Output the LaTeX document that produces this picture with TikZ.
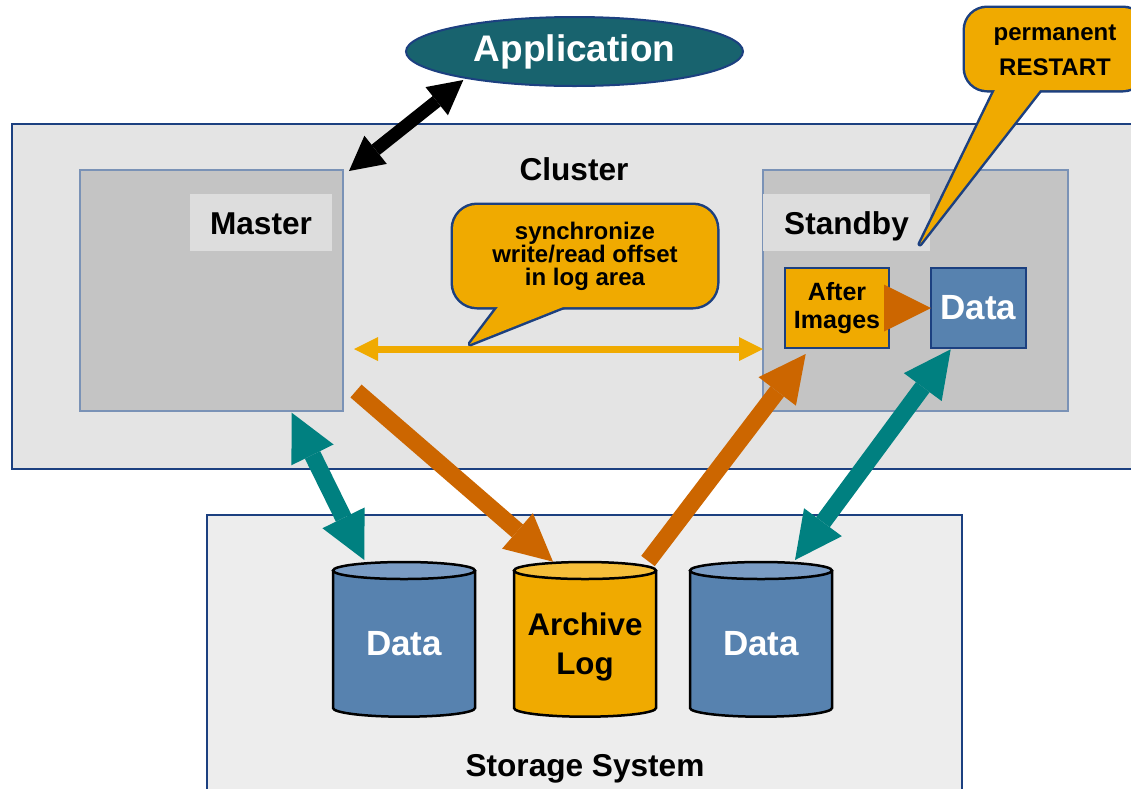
\documentclass[tikz,border=0pt]{standalone}
\usepackage{fontspec}
\setmainfont{Liberation Sans}
\usetikzlibrary{arrows.meta,shapes.geometric,calc}

\definecolor{navy}{RGB}{28,64,128}
\definecolor{appteal}{RGB}{24,99,110}
\definecolor{clusterbg}{RGB}{228,228,228}
\definecolor{hostbg}{RGB}{196,196,196}
\definecolor{hostframe}{RGB}{122,146,182}
\definecolor{tagbg}{RGB}{221,221,221}
\definecolor{storagebg}{RGB}{237,237,237}
\definecolor{amber}{RGB}{240,170,0}
\definecolor{amberlid}{RGB}{245,190,58}
\definecolor{diskblue}{RGB}{87,130,175}
\definecolor{disklid}{RGB}{122,156,196}
\definecolor{rust}{RGB}{204,102,0}
\definecolor{sea}{RGB}{0,128,128}

\tikzset{
  big/.style={font=\bfseries\fontsize{31.6}{37}\selectfont},
  panel/.style={draw=navy, line width=2pt, inner sep=0pt, outer sep=0pt, anchor=north west},
  host/.style={draw=hostframe, line width=1.5pt, fill=hostbg, inner sep=0pt, outer sep=0pt, anchor=north west},
  tag/.style={big, fill=tagbg, inner sep=0pt, outer sep=0pt, anchor=north west,
    text height=23pt, text depth=0pt},
  block/.style={draw=navy, line width=2.5pt, inner sep=0pt, outer sep=0pt, anchor=north west,
    minimum height=80pt},
  drumslot/.style={minimum width=142pt, minimum height=155pt, inner sep=0pt, outer sep=0pt},
  disklabel/.style={font=\bfseries\fontsize{35}{40}\selectfont, text=white, text depth=0pt},
  twoway/.style={line width=17pt,
    arrows={Triangle[length=47pt,width=47pt,line width=0pt]-Triangle[length=47pt,width=47pt,line width=0pt]}},
  oneway/.style={line width=17pt,
    arrows={-Triangle[length=47pt,width=47pt,line width=0pt]}},
  bubbleedge/.style={draw=navy, line width=5pt, line join=round},
  bubblefill/.style={fill=amber},
  bubbletext/.style={font=\bfseries\fontsize{24}{23}\selectfont, align=center},
}

% disk drum: #1 centre x, #2 body colour, #3 lid colour
\newcommand\drum[3]{%
  \fill[#2] (#1-71,570.5) -- (#1-71,708)
    arc[start angle=180, end angle=0, x radius=71, y radius=8.7] -- (#1+71,570.5) -- cycle;
  \draw[line width=2.5pt] (#1-71,570.5) -- (#1-71,708)
    arc[start angle=180, end angle=0, x radius=71, y radius=8.7] -- (#1+71,570.5);
  \filldraw[fill=#3, line width=2.5pt] (#1,570.5) ellipse[x radius=71, y radius=8.5];
}

\begin{document}
\begin{tikzpicture}[x=1pt, y=-1pt]
\useasboundingbox (0,0) rectangle (1131,788);
\clip (0,0) rectangle (1131,788);
\fill[white] (0,0) rectangle (1131,788);

% cluster with its two hosts
\node[panel, fill=clusterbg, minimum width=1140pt, minimum height=345pt] (cluster) at (12,124) {};
\node[big] (clustertitle) at (574,169.5) {Cluster};

\node[host, minimum width=263pt, minimum height=241pt] (master) at (80,170) {};
\node[tag, minimum width=142pt, minimum height=57pt] (mastertag) at (190,194) {Master};

\node[host, minimum width=305pt, minimum height=241pt] (standby) at (763,170) {};
\node[tag, minimum width=167pt, minimum height=57pt] (standbytag) at (763,194) {Standby};

\node[block, fill=amber, minimum width=104pt, align=center,
  font=\bfseries\fontsize{25}{28}\selectfont] (after) at (785,268) {After\\Images};
\node[block, fill=diskblue, minimum width=95pt, text=white,
  font=\bfseries\fontsize{35}{40}\selectfont] (datas) at (931,268) {Data};

% storage system with its disks
\node[panel, line width=2.5pt, fill=storagebg, minimum width=755pt, minimum height=320pt] (storage) at (207,515) {};
\node[big, text height=22pt, text depth=0pt] (storagetitle) at (585,765) {Storage System};

\drum{404}{diskblue}{disklid}
\drum{585}{amber}{amberlid}
\drum{761}{diskblue}{disklid}
\node[drumslot] (datal) at (404,639.5) {};
\node[drumslot] (archive) at (585,639.5) {};
\node[drumslot] (datar) at (761,639.5) {};
\node[disklabel] (datalname) at (404,643) {Data};
\node[disklabel] (datarname) at (761,643) {Data};
\node[big, align=center, font=\bfseries\fontsize{31.3}{39}\selectfont] (archivename) at (585,646.5) {Archive\\Log};

% application
\node[ellipse, draw=navy, line width=2pt, fill=appteal, inner sep=0pt, outer sep=0pt,
  minimum width=337pt, minimum height=69pt, text=white,
  font=\bfseries\fontsize{37}{44}\selectfont] (app) at (574.5,51.5) {Application};

% connectors
\draw[amber, line width=7pt,
  arrows={Triangle[length=24pt,width=24pt,line width=0pt]-Triangle[length=24pt,width=24pt,line width=0pt]}]
  ($(master.east)+(11,58.5)$) -- ($(standby.west)+(0,58.5)$);

\draw[sea, twoway] ($(master.south east)+(-51.3,1.7)$) -- ($(datal.north)+(-39.7,-2)$);
\draw[sea, twoway] ($(datas.south)+(-27.8,1.3)$) -- ($(datar.north)+(34,-2)$);

\draw[rust, oneway] ($(master.south east)+(13,-20)$) -- ($(archive.north)+(-32,-0.3)$);
\draw[rust, oneway] ($(archive.north)+(63,-1)$) -- ($(after.south)+(-31.3,6)$);
\draw[rust, line width=0.1pt, arrows={-Triangle[length=47pt,width=47pt,line width=0pt]}]
  ([xshift=-5pt]after.east) -- (datas.west);

\draw[black, line width=13pt,
  arrows={Triangle[length=34pt,width=36pt,line width=0pt]-Triangle[length=34pt,width=36pt,line width=0pt]}]
  ($(app.center)+(-111.2,28.5)$) -- ($(master.north east)+(6,1)$);

% speech bubbles: thick outline first, fill on top leaves a clean single border
\draw[bubbleedge, rounded corners=24pt] (453,205) rectangle (717,307);
\draw[bubbleedge] (503.3,300) -- (470,344) -- (580.6,300) -- cycle;
\fill[bubblefill, rounded corners=24pt] (453,205) rectangle (717,307);
\fill[bubblefill] (503.3,300) -- (470,344) -- (580.6,300) -- cycle;
\node[bubbletext] (syncnote) at (585,256.8) {synchronize\\write/read offset\\in log area};

\draw[bubbleedge, rounded corners=22pt] (965,8) rectangle (1145,90);
\draw[bubbleedge] (998.4,83) -- (920,244) -- (1045.5,83) -- cycle;
\fill[bubblefill, rounded corners=22pt] (965,8) rectangle (1145,90);
\fill[bubblefill] (998.4,83) -- (920,244) -- (1045.5,83) -- cycle;
\node[bubbletext, font=\bfseries\fontsize{24}{35}\selectfont] (restartnote) at (1055,50) {permanent\\RESTART};
\end{tikzpicture}
\end{document}
